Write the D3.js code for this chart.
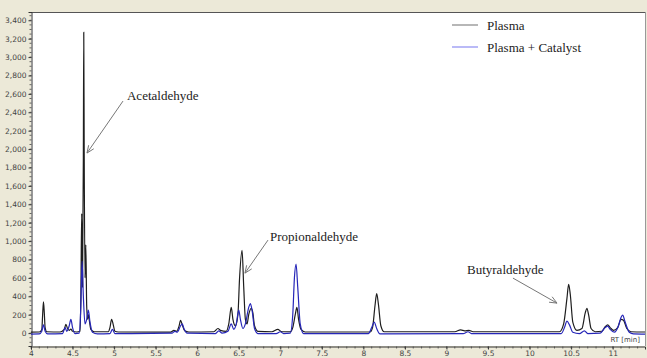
<!DOCTYPE html>
<html><head><meta charset="utf-8">
<script src="https://cdn.jsdelivr.net/npm/d3@7"></script>
<style>html,body{margin:0;padding:0;background:#ECE9D8;}svg{display:block;}</style>
</head><body>
<script>
// ---- data ----
const seriesNames = ["Plasma", "Plasma + Catalyst"];
const plasmaTime = [4.00,4.10,4.13,4.14,4.15,4.16,4.17,4.19,4.35,4.40,4.42,4.44,4.46,4.48,4.50,4.55,4.59,4.60,4.61,4.62,4.63,4.635,4.64,4.65,4.66,4.67,4.68,4.69,4.70,4.72,4.76,4.93,4.95,4.97,4.99,5.01,5.05,5.68,5.72,5.75,5.78,5.80,5.82,5.85,5.90,6.20,6.25,6.28,6.35,6.38,6.41,6.43,6.46,6.49,6.51,6.54,6.56,6.58,6.60,6.62,6.65,6.67,6.69,6.73,6.90,6.97,7.02,7.12,7.15,7.18,7.20,7.22,7.25,7.30,8.08,8.11,8.14,8.16,8.18,8.21,8.25,9.10,9.17,9.22,9.27,9.32,10.36,10.41,10.45,10.47,10.49,10.52,10.57,10.63,10.67,10.69,10.71,10.74,10.79,10.87,10.91,10.94,10.97,11.01,11.06,11.10,11.13,11.17,11.22,11.39];
const plasmaSignal = [10,12,40,200,340,220,60,15,12,40,95,50,30,45,20,12,20,400,1300,500,1900,3270,2000,600,960,300,150,200,150,40,15,15,60,150,90,20,12,10,30,20,70,140,90,25,12,15,50,30,20,100,280,150,80,200,600,900,500,150,100,200,270,220,80,20,15,40,15,15,60,200,280,150,40,12,12,60,300,430,320,80,15,15,35,25,30,15,15,100,380,530,420,120,30,50,220,270,200,50,15,20,70,90,60,30,60,150,140,50,15,12];
const catalystTime = [4.00,4.10,4.13,4.15,4.17,4.20,4.38,4.41,4.43,4.46,4.48,4.50,4.53,4.58,4.60,4.615,4.63,4.65,4.67,4.69,4.71,4.74,4.80,4.95,4.98,5.01,5.70,5.73,5.76,5.80,5.82,5.84,5.88,6.22,6.26,6.30,6.37,6.41,6.44,6.47,6.50,6.52,6.55,6.58,6.62,6.64,6.66,6.69,6.73,6.95,7.00,7.04,7.12,7.15,7.17,7.19,7.21,7.24,7.28,8.06,8.10,8.13,8.16,8.20,9.20,9.26,9.30,10.38,10.42,10.45,10.48,10.52,10.60,10.66,10.70,10.85,10.91,10.94,10.97,11.02,11.07,11.10,11.12,11.15,11.20,11.25,11.39];
const catalystSignal = [-10,-8,20,90,20,-8,-5,60,20,80,150,60,-5,0,300,780,400,100,150,250,120,10,-8,-5,40,-5,0,20,10,80,100,50,0,-5,25,0,20,100,40,100,250,150,50,100,280,320,250,50,-5,-5,15,-5,0,200,600,750,500,100,-5,-5,60,120,50,-8,-5,15,-5,-5,60,130,90,10,-5,25,-5,0,60,76,40,10,80,170,195,120,10,-8,-10];
const yTicks = [0,200,400,600,800,1000,1200,1400,1600,1800,2000,2200,2400,2600,2800,3000,3200,3400];
const xTicks = [4,4.5,5,5.5,6,6.5,7,7.5,8,8.5,9,9.5,10,10.5,11];
const xTickLabels = ["4","4.5","5","5.5","6","6.5","7","7.5","8","8.5","9","9.5","10","10.5","11"];
const annotationLabels = ["Acetaldehyde","Propionaldehyde","Butyraldehyde"];
const annotationTextAt = [[5.155,2533],[6.876,1000],[9.247,641]];
const annotationArrowFrom = [[5.107,2522],[6.852,1011],[9.80,598]];
const annotationArrowTo = [[4.674,1957],[6.575,652],[10.33,326]];

// ---- drawing ----
const W = 647, H = 358;
const svg = d3.select("body").append("svg").attr("width", W).attr("height", H);
svg.append("rect").attr("width", W).attr("height", H).attr("fill", "#ECE9D8");

const x = d3.scaleLinear().domain([4, 11.389]).range([31, 645]);
const y = d3.scaleLinear().domain([-140, 3490]).range([346, 12]);

svg.append("rect").attr("x", 31).attr("y", 12).attr("width", 614).attr("height", 334).attr("fill", "#fff");
svg.append("line").attr("x1", 31).attr("x2", 645).attr("y1", 12.5).attr("y2", 12.5).attr("stroke", "#555");
svg.append("line").attr("x1", 645.5).attr("x2", 645.5).attr("y1", 12).attr("y2", 346).attr("stroke", "#999");

const clip = svg.append("clipPath").attr("id", "clip").append("rect")
  .attr("x", 31).attr("y", 12).attr("width", 614).attr("height", 334);

// axes
const fmt = d3.format(",");
const yAxis = d3.axisLeft(y).tickValues(yTicks).tickFormat(fmt).tickSize(3).tickPadding(2);
const gy = svg.append("g").attr("transform", "translate(31.5,0)").call(yAxis);
const yMinor = d3.range(-100, 3490, 50);
gy.selectAll(".minor").data(yMinor).join("line").attr("class", "minor")
  .attr("x1", -2).attr("x2", 0).attr("y1", d => y(d)).attr("y2", d => y(d)).attr("stroke", "#444").attr("stroke-width", 0.8);

const xAxis = d3.axisBottom(x).tickValues(xTicks).tickFormat((d, i) => xTickLabels[i]).tickSize(3).tickPadding(1);
const gx = svg.append("g").attr("transform", "translate(0,346.5)").call(xAxis);
const xMinor = d3.range(4, 11.39, 0.1);
gx.selectAll(".minor").data(xMinor).join("line").attr("class", "minor")
  .attr("x1", d => x(d)).attr("x2", d => x(d)).attr("y1", 0).attr("y2", 2).attr("stroke", "#444").attr("stroke-width", 0.8);

[gx, gy].forEach(g => {
  g.select(".domain").attr("stroke", "#333");
  g.selectAll(".tick line").attr("stroke", "#333");
  g.selectAll("text").attr("font-family", "DejaVu Sans, sans-serif").attr("font-size", 7.5).attr("fill", "#444");
});

svg.append("text").attr("x", 640).attr("y", 342).attr("text-anchor", "end")
  .attr("font-family", "DejaVu Sans, sans-serif").attr("font-size", 7).attr("fill", "#444").text("RT [min]");

// series
const line = d3.line().x(d => x(d[0])).y(d => y(d[1])).curve(d3.curveMonotoneX);
const plasma = d3.zip(plasmaTime, plasmaSignal);
const catalyst = d3.zip(catalystTime, catalystSignal);
const colors = ["#1e1e1e", "#2626b8"];
const gs = svg.append("g").attr("clip-path", "url(#clip)");
gs.append("path").datum(plasma).attr("d", line).attr("fill", "none").attr("stroke", colors[0]).attr("stroke-width", 1.2);
gs.append("path").datum(catalyst).attr("d", line).attr("fill", "none").attr("stroke", colors[1]).attr("stroke-width", 1.2);

// legend
const legendColors = ["#888", "#8c8cf2"];
seriesNames.forEach((n, i) => {
  const ly = 25 + i * 22;
  svg.append("line").attr("x1", 452).attr("x2", 478).attr("y1", ly).attr("y2", ly).attr("stroke", legendColors[i]).attr("stroke-width", 1.2);
  svg.append("text").attr("x", 487).attr("y", ly + 4.5).attr("font-family", "Liberation Serif, serif").attr("font-size", 13).attr("fill", "#222").text(n);
});

// annotations
const ann = svg.append("g");
annotationLabels.forEach((lab, i) => {
  ann.append("text").attr("x", x(annotationTextAt[i][0])).attr("y", y(annotationTextAt[i][1]))
    .attr("font-family", "Liberation Serif, serif").attr("font-size", 13).attr("fill", "#222").text(lab);
  const x1 = x(annotationArrowFrom[i][0]), y1 = y(annotationArrowFrom[i][1]);
  const x2 = x(annotationArrowTo[i][0]), y2 = y(annotationArrowTo[i][1]);
  ann.append("line").attr("x1", x1).attr("y1", y1).attr("x2", x2).attr("y2", y2).attr("stroke", "#777").attr("stroke-width", 1);
  const a = Math.atan2(y2 - y1, x2 - x1), L = 8, s = 0.4;
  const p = [[x2 - L * Math.cos(a - s), y2 - L * Math.sin(a - s)], [x2, y2], [x2 - L * Math.cos(a + s), y2 - L * Math.sin(a + s)]];
  ann.append("path").attr("d", d3.line()(p)).attr("fill", "none").attr("stroke", "#777").attr("stroke-width", 1);
});
</script>
</body></html>
